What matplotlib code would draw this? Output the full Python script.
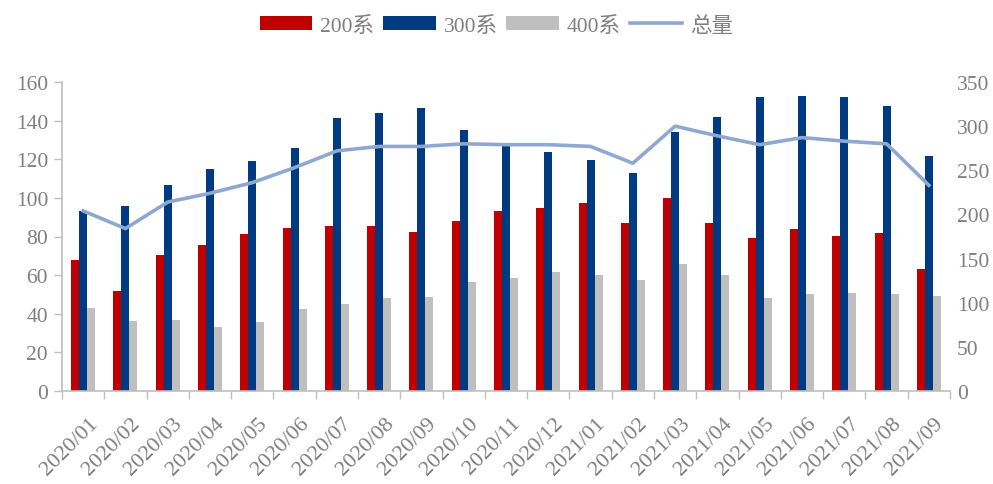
import numpy as np
import matplotlib
matplotlib.use("Agg")
import matplotlib.pyplot as plt
import matplotlib.transforms as mtransforms
from matplotlib.ticker import FixedLocator

plt.rcParams['font.family'] = ['Liberation Serif', 'Noto Sans CJK SC']

months = ['2020/01', '2020/02', '2020/03', '2020/04', '2020/05', '2020/06', '2020/07',
          '2020/08', '2020/09', '2020/10', '2020/11', '2020/12', '2021/01', '2021/02',
          '2021/03', '2021/04', '2021/05', '2021/06', '2021/07', '2021/08', '2021/09']
s200 = [68, 52, 70.5, 75.5, 81.5, 84.5, 85.5, 85.5, 82.5, 88, 93, 95, 97.5, 87,
        100, 87, 79, 84, 80.5, 82, 63]
s300 = [93, 96, 106.5, 115, 119, 126, 141.5, 144, 146.5, 135, 127.5, 123.5, 119.5, 113,
        134, 142, 152, 153, 152, 147.5, 121.5]
s400 = [43, 36, 37, 33, 35.5, 42.5, 45, 48, 48.5, 56.5, 58.5, 61.5, 60, 57.5,
        66, 60, 48, 50, 50.5, 50, 49]
total = [204, 184, 214, 224, 236, 253, 272, 277, 277, 280, 279, 279, 277, 258,
         300, 289, 279, 287, 283, 280, 233]

RED = '#C00000'
BLUE = '#003A80'
GRAY = '#BFBFBF'
LINE = '#8EA8D2'
TXT = '#7F7F7F'
AX = '#BFBFBF'

fig = plt.figure(figsize=(9.93, 4.85), dpi=100)
ax = fig.add_axes([62 / 993, 93 / 485, 888 / 993, 309 / 485])
ax2 = ax.twinx()

x = np.arange(len(months))
w = 0.19
b1 = ax.bar(x - w, s200, w, color=RED, label='200系')
b2 = ax.bar(x, s300, w, color=BLUE, label='300系')
b3 = ax.bar(x + w, s400, w, color=GRAY, label='400系')
l1, = ax2.plot(x, total, color=LINE, lw=2.6, label='总量')

ax.set_xlim(-0.5, len(months) - 0.5)
ax.set_ylim(0, 160)
ax.set_yticks(np.arange(0, 161, 20))
ax2.set_ylim(0, 350)
ax2.set_yticks(np.arange(0, 351, 50))

ax.set_xticks(x)
ax.set_xticklabels(months, rotation=45, ha='right', rotation_mode='anchor',
                   fontsize=16, color=TXT)
ax.tick_params(axis='x', length=0, pad=16)
# nudge the rotated labels a little to the right, like the original
shift = mtransforms.ScaledTranslation(5 / 100, 0, fig.dpi_scale_trans)
for lab in ax.get_xticklabels():
    lab.set_transform(lab.get_transform() + shift)
ax.xaxis.set_minor_locator(FixedLocator(np.arange(-0.5, len(months), 1)))
ax.tick_params(axis='x', which='minor', length=6, color=AX, width=1)
ax.tick_params(axis='y', labelsize=15.5, colors=TXT, length=6, color=AX, width=1, pad=4)
ax2.tick_params(axis='y', labelsize=15.5, colors=TXT, length=0, pad=5)

for a in (ax, ax2):
    for s in ('top', 'right'):
        a.spines[s].set_visible(False)
ax2.spines['left'].set_visible(False)
ax2.spines['bottom'].set_visible(False)
ax.spines['left'].set_color(AX)
ax.spines['bottom'].set_color(AX)
ax.spines['left'].set_linewidth(1.2)
ax.spines['bottom'].set_linewidth(1.2)

fig.legend(handles=[b1, b2, b3, l1], loc='center', bbox_to_anchor=(0.5, 0.945),
           ncol=4, frameon=False, fontsize=15.5, labelcolor=TXT,
           handlelength=2.45, handleheight=0.65, columnspacing=0.4, handletextpad=0.37)

fig.savefig('out.png', dpi=100)
